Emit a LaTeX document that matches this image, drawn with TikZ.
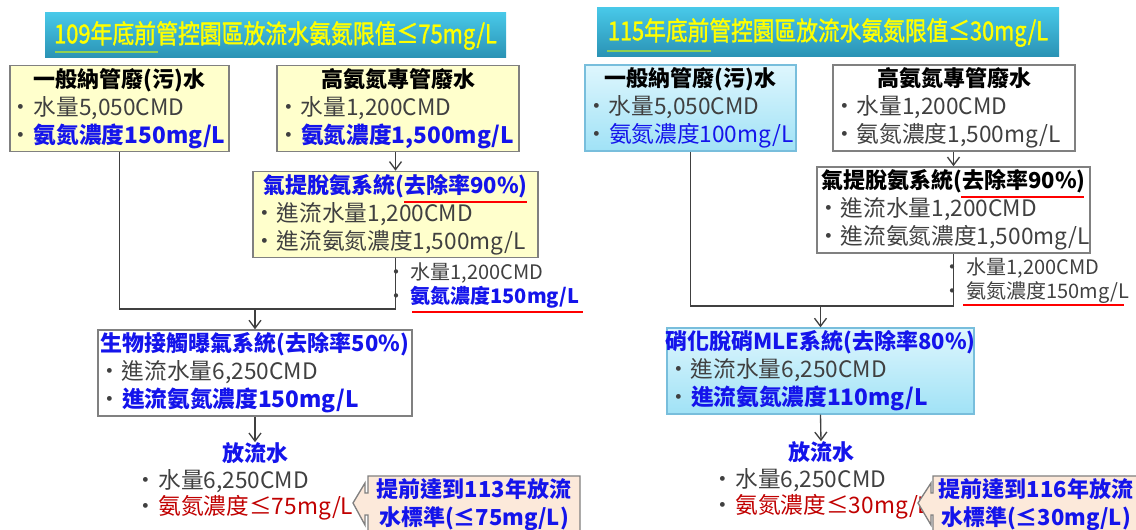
\documentclass[tikz,border=0pt]{standalone}
\usepackage{fontspec}
\setmainfont{Noto Sans CJK TC}
\newfontfamily\ttlfam{Noto Sans CJK TC}[FakeBold=1.5]
\usepackage{graphicx}
\usetikzlibrary{arrows.meta}

\definecolor{bluetx}{RGB}{20,20,235}
\definecolor{redtx}{RGB}{192,0,0}
\definecolor{graytx}{RGB}{64,64,64}
\definecolor{boxline}{RGB}{128,128,128}
\definecolor{lightyel}{RGB}{255,255,204}
\definecolor{titletop}{RGB}{72,200,232}
\definecolor{titlebot}{RGB}{42,146,180}
\definecolor{titleyel}{RGB}{255,255,0}
\definecolor{cyantop}{RGB}{222,246,253}
\definecolor{cyanbot}{RGB}{160,226,246}
\definecolor{cyanline}{RGB}{120,190,220}
\definecolor{peach}{RGB}{252,233,218}
\definecolor{ulred}{RGB}{255,0,0}
\definecolor{ulgreen}{RGB}{146,208,80}

\newcommand{\bxfont}{\fontsize{17}{21}\selectfont}
\newcommand{\hdfont}{\fontsize{16.5}{21}\selectfont}
\newcommand{\sdfont}{\fontsize{15}{18}\selectfont}
\newcommand{\effont}{\fontsize{17}{19.5}\selectfont}
\newcommand{\ttlfont}{\ttlfam\fontsize{19.5}{21}\selectfont}
\newcommand{\boxhead}[1]{\makebox[\hsize]{\hdfont\bfseries #1}\par}
\newcommand{\bul}{\makebox[13pt][l]{\hspace{-5pt}·}}

\tikzset{
  box/.style={draw=boxline, line width=1.1pt, align=left, inner xsep=5pt,
    inner ysep=2pt, font=\bxfont, text=graytx},
  yelbox/.style={box, fill=lightyel},
  cyanbox/.style={box, draw=cyanline, top color=cyantop, bottom color=cyanbot},
  whitebox/.style={box, fill=white},
  titlebar/.style={top color=titletop, bottom color=titlebot, text=titleyel,
    font=\ttlfont, inner sep=0pt},
  flow/.style={draw=graytx, line width=1pt},
  arr/.style={flow, -{Straight Barb[length=6pt,width=9pt]}},
  redline/.style={draw=ulred, line width=2.2pt},
  greenline/.style={draw=ulgreen, line width=1.6pt},
  plain/.style={align=left, font=\sdfont, text=graytx, inner sep=0pt},
  callout/.style={fill=peach, draw=boxline, line width=1pt},
}

\begin{document}
\begin{tikzpicture}[x=0.75pt,y=-0.75pt]
\useasboundingbox (0,0) rectangle (1136,530);
\clip (0,0) rectangle (1136,530);

\node[titlebar, minimum width=345.75pt, minimum height=33.75pt] (titleL) at (275.5,35.5)
  {\resizebox{332pt}{\height}{109年底前管控園區放流水氨氮限值≤75mg/L}};
\draw[greenline] (55,52) -- (158,52);

\node[yelbox, text width=154.25pt, minimum height=62.25pt] (genL) at (119.5,108.5)
  {\boxhead{\color{black}一般納管廢(污)水}\bul 水量5,050CMD\par
   \bul{\color{bluetx}\bfseries 氨氮濃度150mg/L}};
\node[yelbox, text width=171.5pt, minimum height=62.25pt] (highL) at (398,108.5)
  {\boxhead{\color{black}高氨氮專管廢水}\bul 水量1,200CMD\par
   \bul{\color{bluetx}\bfseries 氨氮濃度1,500mg/L}};
\node[yelbox, text width=203.75pt, minimum height=62.25pt] (stripL) at (395.5,214.5)
  {\boxhead{\color{bluetx}氣提脫氨系統(去除率90\%)}\bul 進流水量1,200CMD\par
   \bul 進流氨氮濃度1,500mg/L};
\draw[redline] (404,202) -- (527,202);

\node[plain, anchor=west] (sideL) at (393,286)
  {\bul 水量1,200CMD\\\bul{\color{bluetx}\bfseries 氨氮濃度150mg/L}};
\draw[redline] (412,312) -- (583,312);

\node[whitebox, text width=225.5pt, minimum height=61.5pt] (bioL) at (255,373)
  {\boxhead{\color{bluetx}生物接觸曝氣系統(去除率50\%)}\bul 進流水量6,250CMD\par
   \bul{\color{bluetx}\bfseries 進流氨氮濃度150mg/L}};

\coordinate (mergeL) at (255,309);
\draw[arr] (highL.south -| stripL.north) -- (stripL.north);
\draw[flow] (genL.south) |- (mergeL) -| (stripL.south);
\draw[arr] (mergeL) -- (bioL.north);

\node[plain, font=\hdfont\bfseries, text=bluetx] (outL) at (255,453) {放流水};
\draw[arr] (bioL.south) -- (outL.north);
\node[plain, anchor=west, font=\effont] (effL) at (141,495)
  {\bul 水量6,250CMD\\\bul{\color{redtx}氨氮濃度≤75mg/L}};

\filldraw[callout] (368,476) -- (580,476) -- (580,560) -- (368,560) -- (368,515)
  -- (365,515) -- (365,525) -- (353,503) -- (365,483) -- (365,493) -- (368,493) -- cycle;
\node[plain, align=center, font=\hdfont\bfseries, text=bluetx] (calL) at (474,505)
  {提前達到113年放流\\水標準(≤75mg/L)};

\node[titlebar, minimum width=346.5pt, minimum height=36.75pt] (titleR) at (828,32.5)
  {\resizebox{330pt}{\height}{115年底前管控園區放流水氨氮限值≤30mg/L}};
\draw[greenline] (607,51) -- (711,51);

\node[cyanbox, text width=148.25pt, minimum height=61.5pt] (genR) at (690.5,108)
  {\boxhead{\color{black}一般納管廢(污)水}\bul 水量5,050CMD\par
   \bul{\color{bluetx}氨氮濃度100mg/L}};
\node[whitebox, text width=171.5pt, minimum height=61.5pt] (highR) at (954,108)
  {\boxhead{\color{black}高氨氮專管廢水}\bul 水量1,200CMD\par
   \bul 氨氮濃度1,500mg/L};
\node[whitebox, text width=194.75pt, minimum height=61.5pt] (stripR) at (953.5,210)
  {\boxhead{\color{black}氣提脫氨系統(去除率90\%)}\bul 進流水量1,200CMD\par
   \bul 進流氨氮濃度1,500mg/L};
\draw[redline] (961,197) -- (1084,197);

\node[plain, anchor=west] (sideR) at (949,280.5)
  {\bul 水量1,200CMD\\\bul 氨氮濃度150mg/L};
\draw[redline] (963,305) -- (1124,305);

\node[cyanbox, text width=220.25pt, minimum height=61.5pt] (bioR) at (820.5,371)
  {\boxhead{\color{bluetx}硝化脫硝MLE系統(去除率80\%)}\bul 進流水量6,250CMD\par
   \bul{\color{bluetx}\bfseries 進流氨氮濃度110mg/L}};

\coordinate (mergeR) at (820.5,306);
\draw[arr] (highR.south -| stripR.north) -- (stripR.north);
\draw[flow] (genR.south) |- (mergeR) -| (stripR.south);
\draw[arr] (mergeR) -- (bioR.north);

\node[plain, font=\hdfont\bfseries, text=bluetx] (outR) at (821,452) {放流水};
\draw[arr] (bioR.south) -- (outR.north);
\node[plain, anchor=west, font=\effont] (effR) at (718,493.5)
  {\bul 水量6,250CMD\\\bul{\color{redtx}氨氮濃度≤30mg/L}};

\filldraw[callout] (933,476) -- (1150,476) -- (1150,560) -- (933,560) -- (933,515)
  -- (931,515) -- (931,525) -- (918,503) -- (931,483) -- (931,493) -- (933,493) -- cycle;
\node[plain, align=center, font=\hdfont\bfseries, text=bluetx] (calR) at (1036,505)
  {提前達到116年放流\\水標準(≤30mg/L)};
\end{tikzpicture}
\end{document}
